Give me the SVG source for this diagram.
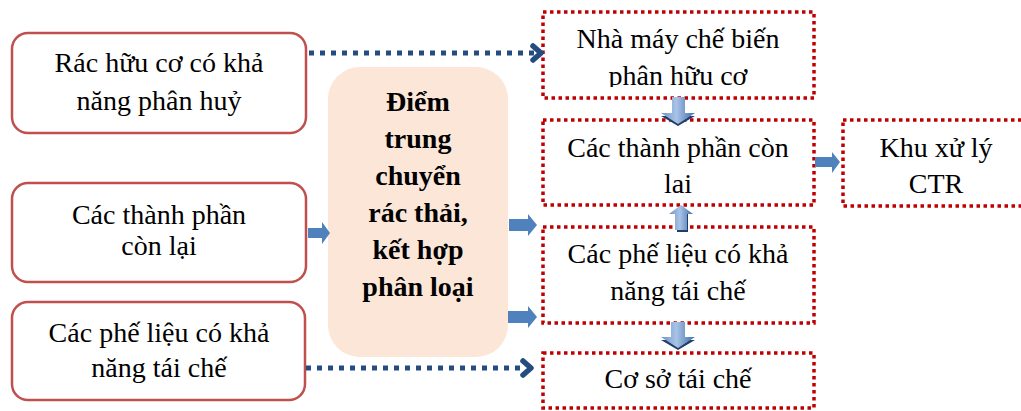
<svg xmlns="http://www.w3.org/2000/svg" width="1021" height="411" viewBox="0 0 1021 411">
<style>
.t{font-family:"Liberation Serif","DejaVu Serif",serif;font-size:28px;fill:#000;text-anchor:middle}
.b{font-weight:bold}
.src{fill:#fff;stroke:#C0504D;stroke-width:2.5}
.dst{fill:#fff;stroke:#C00000;stroke-width:3.5;stroke-dasharray:3.5 3.5}
.dot{fill:none;stroke:#244C80;stroke-width:5;stroke-dasharray:5 6}
.head{fill:none;stroke:#244C80;stroke-width:5.5;stroke-linecap:round;stroke-linejoin:round}
.blk{fill:#4F81BD}
.va{fill:url(#vg)}
.vs{fill:#1F3F6A}
</style>
<defs>
<linearGradient id="vg" x1="0" y1="0" x2="1" y2="0">
<stop offset="0" stop-color="#6C93C8"/>
<stop offset="0.45" stop-color="#A9C3E6"/>
<stop offset="1" stop-color="#3E6DAA"/>
</linearGradient>
<clipPath id="clipA"><rect x="543" y="12" width="271" height="75"/></clipPath>
</defs>

<g id="n-rac-huu-co">
<rect class="src" x="12" y="33" width="294" height="100" rx="16"/>
<text class="t" x="159" y="72">Rác hữu cơ có khả</text>
<text class="t" x="159" y="110">năng phân huỷ</text>
</g>
<g id="n-thanh-phan-con-lai">
<rect class="src" x="12" y="183" width="294" height="99" rx="16"/>
<text class="t" x="159" y="224">Các thành phần</text>
<text class="t" x="159" y="255">còn lại</text>
</g>
<g id="n-phe-lieu">
<rect class="src" x="12" y="302" width="293" height="98" rx="16"/>
<text class="t" x="159" y="342">Các phế liệu có khả</text>
<text class="t" x="159" y="377">năng tái chế</text>
</g>

<g id="n-diem-trung-chuyen">
<rect x="328" y="67" width="180" height="290" rx="32" fill="#FCE6D8"/>
<text class="t b" x="418" y="111">Điểm</text>
<text class="t b" x="418" y="148">trung</text>
<text class="t b" x="418" y="185">chuyển</text>
<text class="t b" x="418" y="222">rác thải,</text>
<text class="t b" x="418" y="259">kết hợp</text>
<text class="t b" x="418" y="296">phân loại</text>
</g>

<g id="n-nha-may">
<rect class="dst" x="543" y="12" width="271" height="86"/>
<g clip-path="url(#clipA)">
<text class="t" x="678" y="48">Nhà máy chế biến</text>
<text class="t" x="678" y="85">phân hữu cơ</text>
</g>
</g>
<g id="n-con-lai">
<rect class="dst" x="543" y="120" width="271" height="85"/>
<text class="t" x="678" y="157">Các thành phần còn</text>
<text class="t" x="678" y="193">lai</text>
</g>
<g id="n-khu-xu-ly">
<rect class="dst" x="843" y="120" width="190" height="86"/>
<text class="t" x="936" y="157">Khu xử lý</text>
<text class="t" x="936" y="193">CTR</text>
</g>
<g id="n-phe-lieu-tai-che">
<rect class="dst" x="543" y="227" width="271" height="96"/>
<text class="t" x="678" y="263">Các phế liệu có khả</text>
<text class="t" x="678" y="300">năng tái chế</text>
</g>
<g id="n-co-so-tai-che">
<rect class="dst" x="543" y="353" width="271" height="55"/>
<text class="t" x="678" y="388">Cơ sở tái chế</text>
</g>

<g id="connectors">
<line class="dot" x1="309" y1="53" x2="534" y2="53"/>
<polyline class="head" points="533,46 541,53 533,60"/>
<line class="dot" x1="306" y1="368" x2="524" y2="368"/>
<polyline class="head" points="523,361 531,368 523,375"/>

<polygon class="blk" points="308,228 322,228 322,222 330,233 322,244 322,238 308,238"/>
<polygon class="blk" points="509,219 528,219 528,214 537,225 528,236 528,231 509,231"/>
<polygon class="blk" points="508,311 528,311 528,306 537,317 528,328 528,323 508,323"/>
<polygon class="blk" points="815,157 832,157 832,152 840,162 832,173 832,167 815,167"/>

<polygon class="vs" points="672,113 685,113 685,116 695,116 678,126 661,116 672,116"/>
<polygon class="va" points="672,97 685,97 685,113 695,113 678,124 661,113 672,113"/>

<polygon class="vs" points="683,213 688,213 688,232 677,232 677,229 683,229"/>
<polygon class="va" points="681,205 693,214 687,214 687,230 675,230 675,214 669,214"/>

<polygon class="vs" points="671,337 685,337 685,340 695,340 678,350 661,340 671,340"/>
<polygon class="va" points="671,322 685,322 685,337 695,337 678,348 661,337 671,337"/>
</g>
</svg>
